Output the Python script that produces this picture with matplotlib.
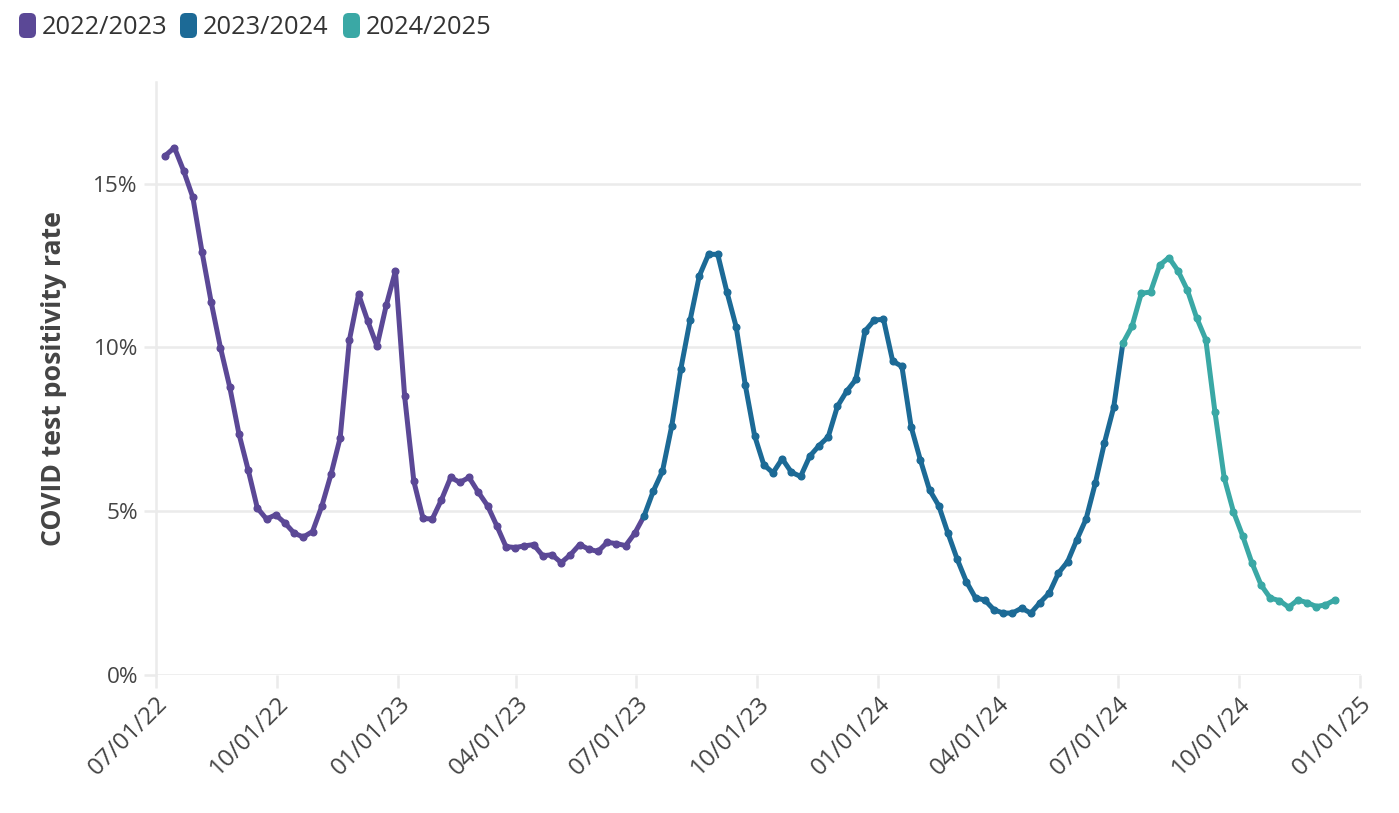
import matplotlib
matplotlib.use("Agg")
import matplotlib.pyplot as plt
import matplotlib.dates as mdates
from matplotlib.patches import FancyBboxPatch
from matplotlib.ticker import FuncFormatter
import pandas as pd

plt.rcParams['font.family'] = ['Open Sans', 'DejaVu Sans']

# ---------------- data ----------------
season_labels = ["2022/2023", "2023/2024", "2024/2025"]
season_starts = ["2022-07-08", "2023-07-07", "2024-07-05"]
season_colors = ["#5b4896", "#1c6a96", "#3aa8a5"]

vals_2022_23 = [15.85, 16.10, 15.39, 14.58, 12.91, 11.37, 9.99, 8.80, 7.37, 6.27,
                5.10, 4.76, 4.89, 4.64, 4.33, 4.21, 4.38, 5.15, 6.12, 7.24,
                10.22, 11.62, 10.80, 10.04, 11.28, 12.33, 8.51, 5.91, 4.78, 4.76,
                5.35, 6.03, 5.88, 6.03, 5.58, 5.17, 4.56, 3.92, 3.89, 3.94,
                3.98, 3.64, 3.67, 3.43, 3.67, 3.98, 3.84, 3.77, 4.05, 4.01,
                3.95, 4.33]
vals_2023_24 = [4.85, 5.61, 6.22, 7.59, 9.35, 10.83, 12.18, 12.84, 12.84, 11.69,
                10.63, 8.84, 7.31, 6.42, 6.17, 6.60, 6.19, 6.06, 6.68, 7.00,
                7.27, 8.20, 8.66, 9.02, 10.50, 10.83, 10.86, 9.58, 9.42, 7.58,
                6.57, 5.65, 5.17, 4.33, 3.54, 2.85, 2.35, 2.29, 1.99, 1.89,
                1.89, 2.04, 1.89, 2.21, 2.50, 3.11, 3.46, 4.13, 4.76, 5.85,
                7.09, 8.17]
vals_2024_25 = [10.13, 10.65, 11.65, 11.69, 12.51, 12.74, 12.33, 11.75, 10.91, 10.24,
                8.02, 6.02, 4.99, 4.25, 3.43, 2.75, 2.35, 2.27, 2.07, 2.29,
                2.21, 2.09, 2.14, 2.29]
season_values = [vals_2022_23, vals_2023_24, vals_2024_25]

y_ticks = [0, 5, 10, 15]
x_tick_dates = ["2022-07-01", "2022-10-01", "2023-01-01", "2023-04-01", "2023-07-01",
                "2023-10-01", "2024-01-01", "2024-04-01", "2024-07-01", "2024-10-01",
                "2025-01-01"]

# ---------------- figure ----------------
W, H = 1399, 813
fig = plt.figure(figsize=(W / 100, H / 100), dpi=100)
ax_l, ax_r, ax_t, ax_b = 156, 1361, 82, 675
ax = fig.add_axes([ax_l / W, 1 - ax_b / H, (ax_r - ax_l) / W, (ax_b - ax_t) / H])

grid_c = "#ebebeb"
text_c = "#444444"

series = []
for start, vals in zip(season_starts, season_values):
    d = pd.date_range(start, periods=len(vals), freq="7D")
    series.append((d, vals))

for i, ((d, v), col) in enumerate(zip(series, season_colors)):
    xs = list(d)
    ys = list(v)
    if i + 1 < len(series):
        xs.append(series[i + 1][0][0])
        ys.append(series[i + 1][1][0])
    ax.plot(xs, ys, color=col, lw=3.6, solid_joinstyle="round",
            solid_capstyle="round", zorder=3)
    ax.plot(d, v, linestyle="none", marker="o", ms=4.8, color=col, zorder=4)

ax.set_xlim(pd.Timestamp("2022-07-01"), pd.Timestamp("2025-01-02"))
ax.set_ylim(0, 18.1)

ax.set_yticks(y_ticks)
ax.yaxis.set_major_formatter(FuncFormatter(lambda v, p: f"{v:.0f}%"))
ax.set_xticks([pd.Timestamp(t) for t in x_tick_dates])
ax.xaxis.set_major_formatter(mdates.DateFormatter("%m/%d/%y"))

ax.grid(axis="y", color=grid_c, lw=1.8, zorder=0)
for s in ["top", "right", "bottom"]:
    ax.spines[s].set_visible(False)
ax.spines["left"].set_color(grid_c)
ax.spines["left"].set_linewidth(1.8)

ax.tick_params(axis="y", length=9, width=1.8, color=grid_c, labelsize=16.2,
               labelcolor=text_c, pad=4)
ax.tick_params(axis="x", length=9, width=1.8, color=grid_c, labelsize=17.5,
               labelcolor=text_c, pad=3)
for lab in ax.get_xticklabels():
    lab.set_rotation(45)
    lab.set_ha("right")
    lab.set_va("top")
    lab.set_rotation_mode("anchor")

ax.set_ylabel("COVID test positivity rate", fontsize=19.2, fontweight="bold",
              color=text_c)
ax.yaxis.set_label_coords(-0.074, 0.5)

# legend
leg_x = [19, 180, 343]
for x0, lab, col in zip(leg_x, season_labels, season_colors):
    sq = FancyBboxPatch(((x0) / W, 1 - 38 / H), 17 / W, 25 / H,
                        boxstyle="round,pad=0,rounding_size=0.004",
                        transform=fig.transFigure, facecolor=col,
                        edgecolor="none", mutation_aspect=W / H)
    fig.patches.append(sq)
    fig.text((x0 + 23) / W, 1 - 27 / H, lab, fontsize=18.4, color="#333333",
             ha="left", va="center")

fig.savefig("out.png", dpi=100, facecolor="white")
